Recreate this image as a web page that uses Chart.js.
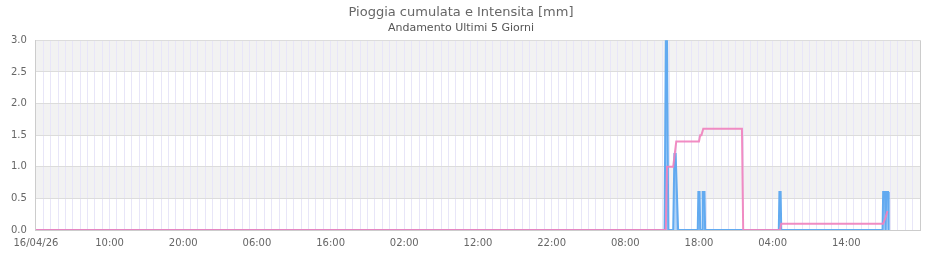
<!DOCTYPE html>
<html>
<head>
<meta charset="utf-8">
<script src="https://cdn.jsdelivr.net/npm/chart.js@4.4.1/dist/chart.umd.min.js"></script>
<style>
  html, body { margin: 0; padding: 0; background: #ffffff; }
  #wrap { width: 940px; height: 260px; }
</style>
</head>
<body>
<div id="wrap"><canvas id="c" width="940" height="260"></canvas></div>
<script>
// ---- data ----
const startDate = '16/04';                       // 16/04/26 00:00 = hour 0
const tickHours  = [0, 10, 20, 30, 40, 50, 60, 70, 80, 90, 100, 110];
const tickLabels = ['16/04/26', '10:00', '20:00', '06:00', '16:00', '02:00',
                    '12:00', '22:00', '08:00', '18:00', '04:00', '14:00'];

// Intensità [mm]
const intensityTimes = ['16/04 00:00', '19/04 13:20', '19/04 13:30', '19/04 13:40', '19/04 13:50',
  '19/04 14:30', '19/04 14:40', '19/04 14:50', '19/04 15:10',
  '19/04 17:50', '19/04 17:55', '19/04 18:05', '19/04 18:10',
  '19/04 18:25', '19/04 18:30', '19/04 18:45', '19/04 18:50',
  '20/04 04:50', '20/04 04:55', '20/04 05:05', '20/04 05:10',
  '20/04 18:55', '20/04 19:00', '20/04 19:15', '20/04 19:20',
  '20/04 19:25', '20/04 19:40', '20/04 19:45'];
const intensityValues = [0, 0, 3.0, 3.0, 0,
  0, 1.2, 1.2, 0,
  0, 0.6, 0.6, 0,
  0, 0.6, 0.6, 0,
  0, 0.6, 0.6, 0,
  0, 0.6, 0.6, 0,
  0.6, 0.6, 0];

// Pioggia cumulata [mm]
const cumulTimes = ['16/04 00:00', '19/04 13:30', '19/04 13:40', '19/04 14:30', '19/04 14:55',
  '19/04 18:00', '19/04 18:10', '19/04 18:20', '19/04 18:35', '19/04 23:50',
  '20/04 00:00', '20/04 05:00', '20/04 05:10', '20/04 19:00', '20/04 19:20', '20/04 19:35'];
const cumulValues = [0, 0, 1.0, 1.0, 1.4,
  1.4, 1.5, 1.5, 1.6, 1.6,
  0, 0, 0.1, 0.1, 0.2, 0.3];

// ---- helpers ----
const startDay = parseInt(startDate.split('/')[0], 10);
function toHours(s) {
  const [d, t] = s.split(' ');
  const day = parseInt(d.split('/')[0], 10);
  const [hh, mm] = t.split(':').map(Number);
  return (day - startDay) * 24 + hh + mm / 60;
}
function pts(times, vals) { return times.map((t, i) => ({ x: toHours(t), y: vals[i] })); }

const bandPlugin = {
  id: 'bands',
  beforeDraw(chart) {
    const { ctx, chartArea: a, scales: { y } } = chart;
    ctx.save();
    ctx.fillStyle = '#f2f2f2';
    [[0.5, 1.0], [1.5, 2.0], [2.5, 3.0]].forEach(([lo, hi]) => {
      const y1 = y.getPixelForValue(hi), y2 = y.getPixelForValue(lo);
      ctx.fillRect(a.left, y1, a.right - a.left, y2 - y1);
    });
    ctx.restore();
  }
};

Chart.defaults.font.family = '"DejaVu Sans", sans-serif';

new Chart(document.getElementById('c'), {
  type: 'line',
  data: {
    datasets: [
      {
        label: 'Pioggia cumulata',
        data: pts(cumulTimes, cumulValues),
        borderColor: 'rgba(240,130,190,0.92)',
        borderWidth: 2,
        pointRadius: 0,
        tension: 0,
        fill: false,
        order: 0
      },
      {
        label: 'Intensita',
        data: pts(intensityTimes, intensityValues),
        borderColor: '#62aaf0',
        borderWidth: 2,
        pointRadius: 0,
        tension: 0,
        fill: 'origin',
        backgroundColor: (c) => {
          const a = c.chart.chartArea;
          if (!a) return 'rgba(95,168,240,0.5)';
          const g = c.chart.ctx.createLinearGradient(0, a.top, 0, a.bottom);
          g.addColorStop(0, 'rgba(95,168,240,0.85)');
          g.addColorStop(1, 'rgba(95,168,240,0.45)');
          return g;
        },
        order: 1
      }
    ]
  },
  options: {
    responsive: false,
    animation: false,
    layout: { padding: { left: 2, right: 20, top: 0, bottom: 3 } },
    plugins: {
      legend: { display: false },
      tooltip: { enabled: false },
      title: {
        display: true,
        text: 'Pioggia cumulata e Intensita [mm]',
        color: '#666666',
        font: { size: 13, weight: 'normal' },
        padding: { top: 5, bottom: 1 }
      },
      subtitle: {
        display: true,
        text: 'Andamento Ultimi 5 Giorni',
        color: '#555555',
        font: { size: 11, weight: 'normal' },
        padding: { top: 0, bottom: 5.5 }
      }
    },
    scales: {
      x: {
        type: 'linear',
        min: 0,
        max: 120,
        border: { color: '#cccccc' },
        grid: {
          drawTicks: false,
          color: (c) => (c.tick && (c.tick.value === 0 || c.tick.value === 120)) ? '#cccccc' : '#e8e6f8'
        },
        ticks: {
          stepSize: 1,
          autoSkip: false,
          maxRotation: 0,
          padding: 7.5,
          color: '#666666',
          font: { size: 10 },
          callback: (v) => { const i = tickHours.indexOf(v); return i >= 0 ? tickLabels[i] : ''; }
        }
      },
      y: {
        min: 0,
        max: 3,
        border: { color: '#cccccc' },
        grid: { drawTicks: false, color: '#dcdcdc' },
        ticks: {
          stepSize: 0.5,
          padding: 9,
          color: '#666666',
          font: { size: 10 },
          callback: (v) => v.toFixed(1)
        }
      }
    }
  },
  plugins: [bandPlugin]
});
</script>
</body>
</html>
